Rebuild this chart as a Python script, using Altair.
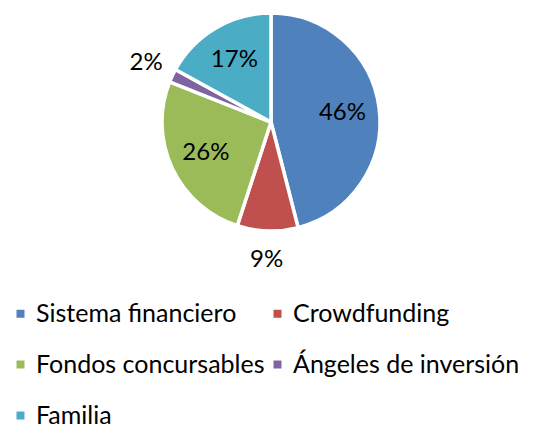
import altair as alt
import pandas as pd

categories = ["Sistema financiero", "Crowdfunding", "Fondos concursables", "Ángeles de inversión", "Familia"]
values = [46, 9, 26, 2, 17]
labels = ["46%", "9%", "26%", "2%", "17%"]
inside = [True, False, True, False, True]
colors = ["#4F81BD", "#C0504D", "#9BBB59", "#8064A2", "#4BACC6"]

df = pd.DataFrame({"cat": categories, "val": values, "lab": labels,
                   "inside": inside, "idx": list(range(len(categories)))})

FONT = "Lato"
CX, CY, R = 263, 114, 109

base = alt.Chart(df).encode(
    theta=alt.Theta("val:Q", stack=True),
    order=alt.Order("idx:Q"),
    x=alt.value(CX), y=alt.value(CY),
)

pie = base.mark_arc(outerRadius=R, stroke="white", strokeWidth=3.5).encode(
    color=alt.Color("cat:N", scale=alt.Scale(domain=categories, range=colors),
                    sort=categories,
                    legend=alt.Legend(title=None, orient="none", legendX=0, legendY=293,
                                      direction="horizontal", columns=2,
                                      symbolType="square", symbolSize=64,
                                      labelFont=FONT, labelFontSize=25, labelLimit=0,
                                      labelColor="black", rowPadding=25,
                                      columnPadding=0, labelOffset=3,
                                      symbolStrokeWidth=0))
)

txt_in = base.transform_calculate(
    t="datum.inside ? datum.lab : ''"
).mark_text(radius=72, font=FONT, fontSize=24, color="black").encode(text="t:N")

txt_out = base.transform_calculate(
    t="datum.inside ? '' : datum.lab"
).mark_text(radius=138, font=FONT, fontSize=24, color="black").encode(text="t:N")

chart = alt.layer(pie, txt_in, txt_out).properties(
    width=524, height=424, padding=0,
    autosize=alt.AutoSizeParams(type="none")
).configure_view(stroke=None)

chart.save("out.html", embed_options={"renderer": "svg", "actions": False})
